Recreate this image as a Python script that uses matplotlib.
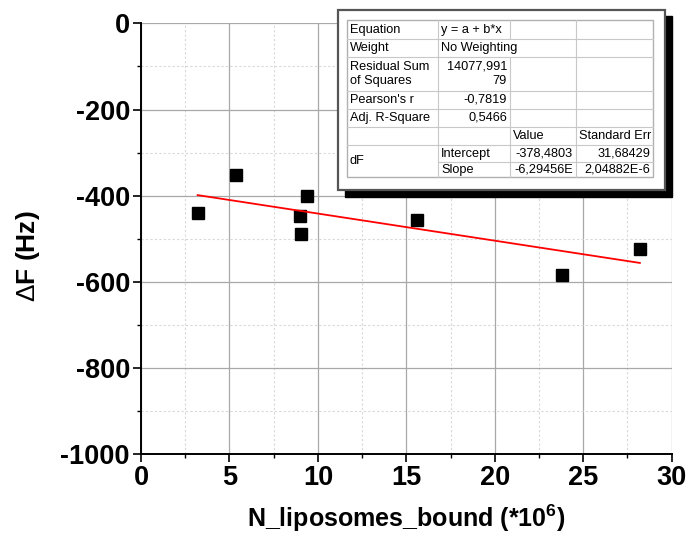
import numpy as np
import matplotlib
matplotlib.use('Agg')
import matplotlib.pyplot as plt
from matplotlib.patches import Rectangle
from matplotlib.ticker import MultipleLocator

plt.rcParams['font.family'] = ['Liberation Sans', 'DejaVu Sans']
plt.rcParams['axes.unicode_minus'] = False
plt.rcParams['mathtext.fontset'] = 'custom'
plt.rcParams['mathtext.rm'] = 'Liberation Sans'
plt.rcParams['mathtext.bf'] = 'Liberation Sans:bold'

# data
n_bound = [3.2, 5.35, 9.4, 9.0, 9.05, 15.6, 23.8, 28.2]
delta_f = [-440, -352, -401, -446, -488, -457, -583, -523]

# linear fit reported in the table (slope is per liposome, x is in 1e6)
intercept = -378.4803
slope = -6.29456e-6

table_rows = [
    ('Equation', 'y = a + b*x', '', ''),
    ('Weight', 'No Weighting', '', ''),
    ('Residual Sum\nof Squares', '14077,991\n79', '', ''),
    ("Pearson's r", '-0,7819', '', ''),
    ('Adj. R-Square', '0,5466', '', ''),
    ('', '', 'Value', 'Standard Err'),
    ('dF', 'Intercept', '-378,4803', '31,68429'),
    ('', 'Slope', '-6,29456E', '2,04882E-6'),
]

W, H = 689, 552
fig = plt.figure(figsize=(W / 100, H / 100), dpi=100)
ax = fig.add_axes([141 / W, 1 - 454.3 / H, (671.7 - 141) / W, (454.3 - 23.3) / H])

ax.set_xlim(0, 30)
ax.set_ylim(-1000, 0)
ax.xaxis.set_major_locator(MultipleLocator(5))
ax.xaxis.set_minor_locator(MultipleLocator(2.5))
ax.yaxis.set_major_locator(MultipleLocator(200))
ax.yaxis.set_minor_locator(MultipleLocator(100))
ax.grid(which='major', color='#a8a8a8', lw=0.9, ls='-')
ax.grid(which='minor', color='#d8d8d8', lw=0.8, ls=(0, (2, 2)))
ax.set_axisbelow(True)
for s in ('top', 'right'):
    ax.spines[s].set_visible(False)
for s in ('left', 'bottom'):
    ax.spines[s].set_linewidth(1.4)
ax.tick_params(which='major', direction='out', length=6, width=1.2,
               labelsize=19.5, pad=2)
ax.tick_params(which='minor', direction='out', length=3, width=1.0)
for lab in ax.get_xticklabels() + ax.get_yticklabels():
    lab.set_fontweight('bold')

ax.plot(n_bound, delta_f, 's', color='black', ms=8, zorder=3)
xfit = np.array([min(n_bound), max(n_bound)])
ax.plot(xfit, intercept + slope * xfit * 1e6, color='red', lw=1.3, zorder=3)

ax.set_xlabel(r'N_liposomes_bound (*10$^{\mathbf{6}}$)', fontsize=18,
              fontweight='bold', labelpad=8)
ax.set_ylabel(r'$\Delta$F (Hz)', fontsize=19, fontweight='bold')
ax.yaxis.set_label_coords(-0.187, 0.46)

# results table drawn in pixel coordinates
bx0, by0, bx1, by1 = 336, 8, 674, 199
tab = fig.add_axes([bx0 / W, 1 - by1 / H, (bx1 - bx0) / W, (by1 - by0) / H])
tab.set_xlim(bx0, bx1)
tab.set_ylim(by1, by0)
tab.axis('off')
tab.add_patch(Rectangle((345, 16), 327, 181, color='black', zorder=1))
tab.add_patch(Rectangle((338, 10), 327, 180, facecolor='white',
                        edgecolor='#555555', lw=1.6, zorder=2))

cols = [347, 438, 510, 576, 653]
rows = [20, 39, 57, 91, 109, 127, 145, 162, 177]
gc = '#c8c8c8'
tab.add_patch(Rectangle((cols[0], rows[0]), cols[-1] - cols[0],
                        rows[-1] - rows[0], fill=False, edgecolor='#b0b0b0',
                        lw=1.0, zorder=3))
for i in range(1, len(rows) - 1):
    x_start = cols[1] if i == 7 else cols[0]
    tab.plot([x_start, cols[-1]], [rows[i]] * 2, color=gc, lw=0.8, zorder=3)
for j in range(1, len(cols) - 1):
    for i in range(len(rows) - 1):
        if j == 2 and i == 1:
            continue
        tab.plot([cols[j]] * 2, [rows[i], rows[i + 1]], color=gc, lw=0.8,
                 zorder=3)

right_cells = {(2, 1), (3, 1), (4, 1), (6, 2), (6, 3), (7, 2), (7, 3)}
for i, row in enumerate(table_rows):
    for j, txt in enumerate(row):
        if not txt:
            continue
        yc = (rows[i] + rows[i + 1]) / 2
        if (i, j) == (6, 0):
            yc = (rows[6] + rows[8]) / 2
        if (i, j) in right_cells:
            tab.text(cols[j + 1] - 3, yc, txt, ha='right', va='center',
                     fontsize=9.2, linespacing=1.3, zorder=4)
        else:
            tab.text(cols[j] + 3, yc, txt, ha='left', va='center',
                     fontsize=9.2, linespacing=1.3, zorder=4)

fig.savefig('out.png', dpi=100)
